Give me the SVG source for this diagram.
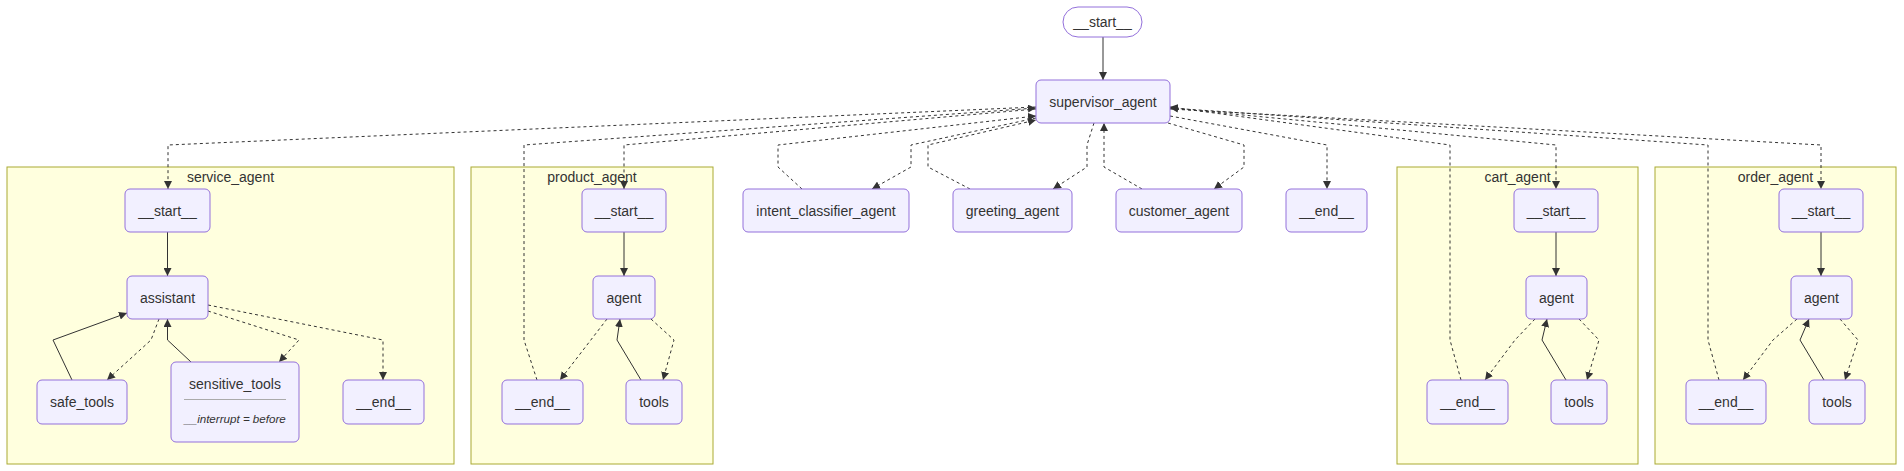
<svg xmlns="http://www.w3.org/2000/svg" width="1904" height="471" viewBox="0 0 1904 471">
<style>
.bg{fill:#ffffff}
.cl{fill:#ffffde;stroke:#aaaa33;stroke-width:1}
.nd{fill:#f2f0ff;stroke:#9370db;stroke-width:1}
.st{fill:#ffffff;fill-opacity:0;stroke:#9370db;stroke-width:1}
.t{font-family:"Liberation Sans",Arial,sans-serif;font-size:14px;fill:#333333;text-anchor:middle}
.ti{font-family:"Liberation Sans",Arial,sans-serif;font-size:11.6px;font-style:italic;fill:#333333;text-anchor:middle}
.e{fill:none;stroke:#333333;stroke-width:1;marker-end:url(#arr)}
.d{stroke-dasharray:3 3}
.div{stroke:#aaaaaa;stroke-width:1}
</style>
<defs>
<marker id="arr" viewBox="0 0 10 10" refX="10" refY="5" markerWidth="8" markerHeight="8" markerUnits="userSpaceOnUse" orient="auto">
<path d="M0,0 L10,5 L0,10 z" fill="#333333"/>
</marker>
</defs>
<rect class="bg" x="0" y="0" width="1904" height="471"/>

<g id="clusters">
<g id="service_agent"><rect class="cl" x="7" y="167" width="447" height="297"/><text class="t" x="230.5" y="182">service_agent</text></g>
<g id="product_agent"><rect class="cl" x="471" y="167" width="242" height="297"/><text class="t" x="592" y="182">product_agent</text></g>
<g id="cart_agent"><rect class="cl" x="1397" y="167" width="241" height="297"/><text class="t" x="1517.5" y="182">cart_agent</text></g>
<g id="order_agent"><rect class="cl" x="1655" y="167" width="241" height="297"/><text class="t" x="1775.5" y="182">order_agent</text></g>
</g>

<g id="edges">
<path class="e" d="M1103,37 L1103,80"/>
<path class="e d" d="M1036,107 L168,145 L168,189"/>
<path class="e d" d="M537,380 L524,340 L524,145 L1036,108"/>
<path class="e d" d="M1036,109 L624,145 L624,189"/>
<path class="e d" d="M802,189 L778,167 L778,145 L1036,116"/>
<path class="e d" d="M1036,118 L911,145 L911,167 L872,189"/>
<path class="e d" d="M970,189 L928,167 L928,145 L1036,120"/>
<path class="e d" d="M1094,123 L1087,145 L1087,167 L1053,189"/>
<path class="e d" d="M1142,189 L1104,167 L1104,123"/>
<path class="e d" d="M1168,123 L1244,145 L1244,167 L1214,189"/>
<path class="e d" d="M1170,116 L1327,145 L1327,189"/>
<path class="e d" d="M1170,108 L1556,145 L1556,189"/>
<path class="e d" d="M1461,380 L1450,340 L1450,145 L1170,107"/>
<path class="e d" d="M1170,109 L1821,145 L1821,189"/>
<path class="e d" d="M1719,380 L1708,340 L1708,145 L1170,108"/>

<path class="e" d="M167.5,232 L167.5,276"/>
<path class="e d" d="M159,319 L151,340 L107,380"/>
<path class="e" d="M72,380 L53,340 L127,313"/>
<path class="e" d="M191,362 L167.5,340 L167.5,319"/>
<path class="e d" d="M208,311 L299,340 L279,362"/>
<path class="e d" d="M208,305 L383,340 L383,380"/>

<path class="e" d="M624,232 L624,276"/>
<path class="e d" d="M607,319 L560,380"/>
<path class="e" d="M641,380 L617,340 L620,319"/>
<path class="e d" d="M651,319 L674,340 L663,380"/>

<path class="e" d="M1556,232 L1556,276"/>
<path class="e d" d="M1535,319 L1515,340 L1485,380"/>
<path class="e" d="M1566,380 L1542,340 L1547,319"/>
<path class="e d" d="M1579,319 L1599,340 L1587,380"/>

<path class="e" d="M1821,232 L1821,276"/>
<path class="e d" d="M1797,319 L1773,340 L1743,380"/>
<path class="e" d="M1824,380 L1800,340 L1809,319"/>
<path class="e d" d="M1840,319 L1858,340 L1845,380"/>
</g>

<g id="start"><rect class="st" x="1063" y="7" width="79" height="30" rx="15"/><text class="t" x="1102.5" y="27">__start__</text></g>
<g id="supervisor_agent_node"><rect class="nd" x="1036" y="80" width="134" height="43" rx="5"/><text class="t" x="1103" y="106.5">supervisor_agent</text></g>
<g id="intent_classifier_agent"><rect class="nd" x="743" y="189" width="166" height="43" rx="5"/><text class="t" x="826" y="215.5">intent_classifier_agent</text></g>
<g id="greeting_agent"><rect class="nd" x="953" y="189" width="119" height="43" rx="5"/><text class="t" x="1012.5" y="215.5">greeting_agent</text></g>
<g id="customer_agent"><rect class="nd" x="1116" y="189" width="126" height="43" rx="5"/><text class="t" x="1179" y="215.5">customer_agent</text></g>
<g id="end"><rect class="nd" x="1286" y="189" width="81" height="43" rx="5"/><text class="t" x="1326.5" y="215.5">__end__</text></g>

<g id="service_start"><rect class="nd" x="125" y="189" width="85" height="43" rx="5"/><text class="t" x="167.5" y="215.5">__start__</text></g>
<g id="service_assistant"><rect class="nd" x="127" y="276" width="81" height="43" rx="5"/><text class="t" x="167.5" y="302.5">assistant</text></g>
<g id="service_safe_tools"><rect class="nd" x="37" y="380" width="90" height="44" rx="5"/><text class="t" x="82" y="407">safe_tools</text></g>
<g id="service_sensitive_tools"><rect class="nd" x="171" y="362" width="128" height="80" rx="5"/><text class="t" x="235" y="389">sensitive_tools</text><line class="div" x1="184" y1="399.5" x2="286" y2="399.5"/><text class="ti" x="235" y="423">__interrupt = before</text></g>
<g id="service_end"><rect class="nd" x="343" y="380" width="81" height="44" rx="5"/><text class="t" x="383.5" y="407">__end__</text></g>

<g id="product_start"><rect class="nd" x="582" y="189" width="84" height="43" rx="5"/><text class="t" x="624" y="215.5">__start__</text></g>
<g id="product_agent_node"><rect class="nd" x="593" y="276" width="62" height="43" rx="5"/><text class="t" x="624" y="302.5">agent</text></g>
<g id="product_end"><rect class="nd" x="502" y="380" width="81" height="44" rx="5"/><text class="t" x="542.5" y="407">__end__</text></g>
<g id="product_tools"><rect class="nd" x="626" y="380" width="56" height="44" rx="5"/><text class="t" x="654" y="407">tools</text></g>

<g id="cart_start"><rect class="nd" x="1514" y="189" width="84" height="43" rx="5"/><text class="t" x="1556" y="215.5">__start__</text></g>
<g id="cart_agent_node"><rect class="nd" x="1526" y="276" width="61" height="43" rx="5"/><text class="t" x="1556.5" y="302.5">agent</text></g>
<g id="cart_end"><rect class="nd" x="1427" y="380" width="81" height="44" rx="5"/><text class="t" x="1467.5" y="407">__end__</text></g>
<g id="cart_tools"><rect class="nd" x="1551" y="380" width="56" height="44" rx="5"/><text class="t" x="1579" y="407">tools</text></g>

<g id="order_start"><rect class="nd" x="1779" y="189" width="84" height="43" rx="5"/><text class="t" x="1821" y="215.5">__start__</text></g>
<g id="order_agent_node"><rect class="nd" x="1791" y="276" width="61" height="43" rx="5"/><text class="t" x="1821.5" y="302.5">agent</text></g>
<g id="order_end"><rect class="nd" x="1686" y="380" width="80" height="44" rx="5"/><text class="t" x="1726" y="407">__end__</text></g>
<g id="order_tools"><rect class="nd" x="1809" y="380" width="56" height="44" rx="5"/><text class="t" x="1837" y="407">tools</text></g>
</svg>
